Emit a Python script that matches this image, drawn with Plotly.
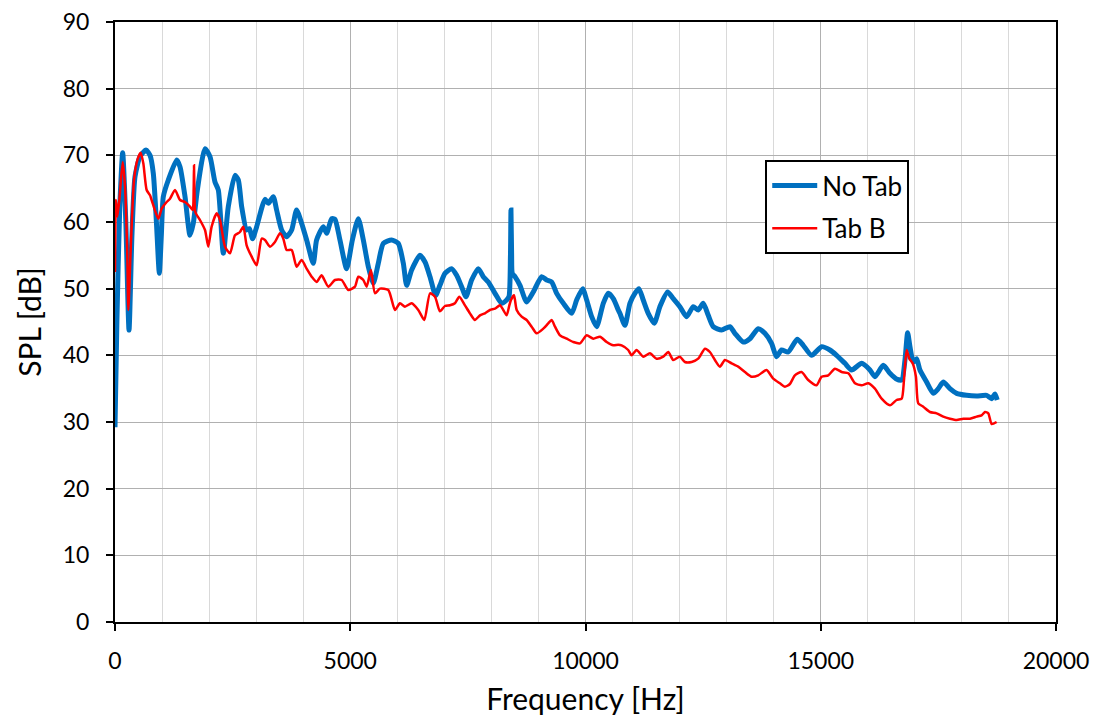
import plotly.graph_objects as go

freq_notab = [0, 40, 100, 163, 230, 298, 360, 425, 531, 659, 744, 814, 880, 942, 985, 1027, 1133, 1311, 1381, 1488, 1594, 1664, 1750, 1913, 2019, 2125, 2196, 2302, 2408, 2550, 2621, 2692, 2798, 2855, 2925, 3011, 3188, 3260, 3364, 3435, 3542, 3648, 3755, 3860, 3967, 4073, 4214, 4285, 4427, 4498, 4605, 4675, 4781, 4923, 5045, 5171, 5278, 5384, 5490, 5596, 5703, 5880, 6021, 6128, 6199, 6305, 6482, 6589, 6695, 6815, 6906, 7013, 7155, 7261, 7367, 7459, 7580, 7721, 7827, 7934, 8076, 8218, 8324, 8374, 8405, 8416, 8430, 8444, 8501, 8607, 8749, 8890, 9068, 9175, 9281, 9387, 9529, 9706, 9812, 9940, 10025, 10131, 10237, 10378, 10485, 10591, 10697, 10731, 10838, 10944, 11050, 11135, 11227, 11333, 11461, 11581, 11745, 11865, 12006, 12148, 12290, 12396, 12502, 12609, 12715, 12894, 13069, 13175, 13352, 13494, 13671, 13813, 13954, 14060, 14167, 14309, 14500, 14628, 14805, 15018, 15195, 15337, 15514, 15657, 15869, 16046, 16152, 16329, 16471, 16598, 16720, 16790, 16847, 16896, 16967, 17037, 17108, 17250, 17392, 17498, 17604, 17746, 17888, 18100, 18313, 18525, 18632, 18702, 18751]
spl_notab = [29.2, 45, 62, 70.4, 60, 43.8, 58, 66.8, 69.8, 70.8, 70, 67.3, 60, 52.3, 58, 63.8, 66.3, 69.3, 68.3, 63.8, 58, 59.8, 64.8, 71, 69.8, 66, 64.8, 55.3, 62.3, 67, 66.3, 62.3, 58.8, 59, 57.5, 59.3, 63.4, 62.8, 63.8, 61.8, 58.8, 57.8, 58.8, 61.8, 59.8, 57.3, 53.8, 57.3, 59.3, 58.3, 60.5, 60.4, 57.3, 53, 57.3, 60.5, 57.3, 53.3, 50.8, 53.8, 56.8, 57.3, 56.8, 53.8, 50.5, 52.8, 55, 54, 51.8, 49, 50.5, 52.3, 53, 52, 50.3, 48.8, 51.3, 53, 51.8, 51, 49.3, 47.8, 48.3, 48.8, 55, 61.8, 55, 52.3, 51.8, 50.5, 48, 49.5, 51.8, 51.3, 51, 49.3, 47.8, 46.3, 48.3, 50, 48.3, 45.8, 44.3, 47.8, 49.3, 48.5, 46.8, 46.3, 44.5, 47.8, 49.3, 50, 48.3, 46.3, 44.8, 47.3, 49.5, 48.5, 47.3, 45.8, 47.3, 46.8, 47.8, 46, 44.3, 43.8, 44.3, 43.3, 42, 42.5, 44, 43.3, 41.8, 39.8, 40.8, 40.5, 42.4, 41.5, 40, 41.3, 40.8, 40, 38.8, 37.8, 38.8, 37.8, 36.8, 38.5, 37.3, 36.5, 36.3, 39.3, 43.4, 41.3, 39, 39.5, 37.8, 36, 34.3, 35, 36, 35, 34.3, 34, 33.9, 34, 33.5, 34.2, 33.3]

freq_tabb = [0, 21, 50, 92, 163, 213, 262, 284, 333, 404, 475, 546, 602, 673, 744, 801, 921, 992, 1098, 1169, 1275, 1381, 1488, 1594, 1651, 1672, 1679, 1690, 1707, 1806, 1913, 1983, 2054, 2161, 2231, 2338, 2444, 2550, 2656, 2727, 2798, 2905, 3011, 3118, 3188, 3294, 3400, 3506, 3577, 3648, 3755, 3860, 3967, 4073, 4180, 4286, 4392, 4533, 4675, 4817, 4958, 5100, 5171, 5278, 5349, 5440, 5526, 5632, 5809, 5951, 6057, 6163, 6305, 6446, 6574, 6695, 6801, 6906, 7013, 7119, 7225, 7318, 7438, 7544, 7650, 7757, 7863, 7969, 8076, 8182, 8253, 8324, 8381, 8416, 8480, 8537, 8643, 8749, 8855, 8961, 9103, 9209, 9281, 9352, 9458, 9600, 9741, 9883, 10025, 10166, 10308, 10450, 10591, 10697, 10767, 10908, 10980, 11086, 11227, 11369, 11511, 11652, 11759, 11865, 12006, 12113, 12255, 12396, 12538, 12644, 12750, 12857, 12963, 13105, 13246, 13388, 13530, 13671, 13848, 13990, 14131, 14238, 14344, 14450, 14592, 14734, 14911, 15018, 15160, 15302, 15444, 15586, 15728, 15869, 16011, 16152, 16294, 16471, 16613, 16720, 16769, 16826, 16882, 16953, 17023, 17072, 17179, 17321, 17462, 17604, 17746, 17888, 18029, 18171, 18313, 18419, 18490, 18561, 18632, 18738]
spl_tabb = [52.5, 63.3, 60.8, 63.3, 69, 65.3, 54.8, 46.8, 55.8, 66.3, 69.3, 70.4, 68.8, 64.8, 64, 62.8, 60.5, 62, 63, 63.5, 64.8, 63.3, 63, 62.3, 61.8, 65, 68.5, 64, 61.5, 60.3, 58.8, 56.3, 59.3, 61.3, 60.3, 56.3, 55.3, 58, 58.5, 59.3, 56.5, 54.8, 53.5, 57.5, 57.3, 56.3, 57, 58.3, 57.5, 55.8, 55.8, 53.3, 54.3, 53, 51.8, 51, 52, 50.3, 51.3, 51.3, 49.8, 50.3, 51.8, 51.3, 50.3, 52.8, 49.3, 50, 49.8, 46.8, 47.8, 47.3, 47.8, 46.8, 45.3, 49.3, 48.8, 46.6, 47.4, 47.5, 47.8, 48.8, 47.5, 46.3, 45.3, 46, 46.3, 46.8, 47, 47.5, 46.8, 46, 47.5, 48.3, 49, 46.8, 45.8, 45.3, 44.3, 43.3, 44, 44.8, 45.3, 44.3, 43, 42.5, 42, 41.8, 43, 42.5, 42.8, 42, 41.5, 41.6, 41.5, 40.8, 40, 40.8, 39.8, 40.3, 39.5, 39.8, 40.5, 39.3, 39.8, 39, 39, 39.5, 41, 40.5, 39.3, 38.3, 39.3, 38.8, 38.3, 37.5, 36.8, 37, 37.8, 36.5, 35.8, 35.3, 35.7, 37, 37.5, 36.3, 35.5, 36.8, 37, 38, 37.5, 37.3, 35.8, 35.5, 35.8, 35, 33.5, 32.5, 33.3, 33.5, 36.3, 40.8, 39.5, 38.8, 36.8, 32.8, 32.3, 31.5, 31.3, 30.8, 30.5, 30.3, 30.5, 30.5, 30.8, 31, 31.5, 31.3, 29.7, 30]

series_names = ["No Tab", "Tab B"]

FONT = "Lato, 'Open Sans', sans-serif"

fig = go.Figure()
fig.add_trace(go.Scatter(x=freq_notab, y=spl_notab, mode="lines", name=series_names[0],
                         line=dict(color="#0070C0", width=5, shape="spline", smoothing=0.6),
                         legendgroup="a"))
fig.add_trace(go.Scatter(x=freq_tabb, y=spl_tabb, mode="lines", name=series_names[1],
                         line=dict(color="#FF0000", width=2.5, shape="spline", smoothing=0.6),
                         legendgroup="b"))

fig.update_layout(
    width=1096, height=719,
    margin=dict(l=115, r=40, t=22, b=97),
    paper_bgcolor="white", plot_bgcolor="white",
    font=dict(family=FONT, size=23, color="black"),
    showlegend=True,
    legend=dict(x=0.691, y=0.770, xanchor="left", yanchor="top",
                bgcolor="white", bordercolor="black", borderwidth=2,
                font=dict(family=FONT, size=26, color="black"),
                tracegroupgap=6, itemwidth=45,
                entrywidth=137, entrywidthmode="pixels"),
    xaxis=dict(range=[0, 20000], dtick=5000, tick0=0, tickformat="d",
               automargin=False,
               showgrid=True, gridcolor="#b0b0b0", gridwidth=1,
               minor=dict(dtick=1000, showgrid=True, gridcolor="#d9d9d9", gridwidth=1),
               showline=True, linecolor="black", linewidth=2, mirror=True,
               ticks="outside", ticklen=7, tickcolor="black", tickwidth=2,
               ticklabelstandoff=10,
               zeroline=False,
               tickfont=dict(family=FONT, size=23, color="black"),
               title=dict(text="Frequency [Hz]", font=dict(family=FONT, size=30, color="black"), standoff=16)),
    yaxis=dict(range=[0, 90], dtick=10, tick0=0,
               automargin=False,
               showgrid=True, gridcolor="#b0b0b0", gridwidth=1,
               showline=True, linecolor="black", linewidth=2, mirror=True,
               ticks="outside", ticklen=7, tickcolor="black", tickwidth=2,
               ticklabelstandoff=12,
               zeroline=False,
               tickfont=dict(family=FONT, size=23, color="black"),
               title=dict(text="SPL [dB]", font=dict(family=FONT, size=30, color="black"), standoff=12)),
)

fig.write_html("out.html")
